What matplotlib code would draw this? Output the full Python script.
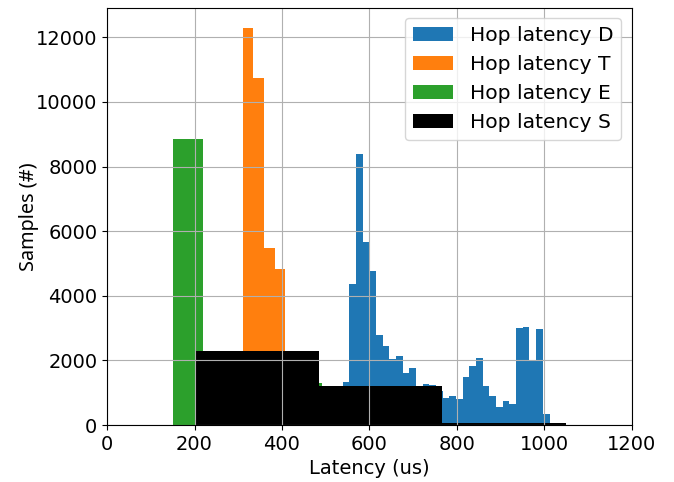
import numpy as np
import matplotlib
matplotlib.use("Agg")
import matplotlib.pyplot as plt

# Hop latency D (blue)
d_start, d_width = 538.6, 15.28
d_counts = [1343, 4372, 8403, 5653, 4754, 2790, 2450, 2037, 2150, 1623,
            1778, 1150, 1262, 1230, 1050, 847, 900, 806, 1488, 1820,
            2088, 1200, 910, 548, 744, 651, 2998, 3040, 2015, 2966, 341]
# Hop latency T (orange)
t_start, t_width = 309.8, 24.4
t_counts = [12300, 10750, 5480, 4830, 1900, 1500, 1000, 700, 400, 200]
# Hop latency E (green)
e_start, e_width = 151.0, 34.0
e_counts = [8850, 8850, 300, 150, 100, 80, 60, 60, 100, 1300]
# Hop latency S (black)
s_start, s_width = 202.0, 282.4
s_counts = [2295, 1210, 70]

labels = ["Hop latency D", "Hop latency T", "Hop latency E", "Hop latency S"]
colors = ["#1f77b4", "#ff7f0e", "#2ca02c", "black"]

fig = plt.figure(figsize=(6.74, 4.82), dpi=100)
ax = fig.add_axes([0.159, 0.118, 0.778, 0.866])

series = [(d_start, d_width, d_counts), (t_start, t_width, t_counts),
          (e_start, e_width, e_counts), (s_start, s_width, s_counts)]
for (start, width, counts), lab, col in zip(series, labels, colors):
    n = len(counts)
    edges = start + width * np.arange(n + 1)
    centers = (edges[:-1] + edges[1:]) / 2
    ax.hist(centers, bins=edges, weights=counts, color=col, label=lab)

ax.set_xlim(0, 1200)
ax.grid(True)
ax.tick_params(labelsize=14)
ax.set_xlabel("Latency (us)", fontsize=14)
ax.set_ylabel("Samples (#)", fontsize=14.3, family=["Noto Sans", "DejaVu Sans"],
              labelpad=-2)
ax.legend(loc="upper right", fontsize=14.6)

fig.savefig("out.png", dpi=100)
